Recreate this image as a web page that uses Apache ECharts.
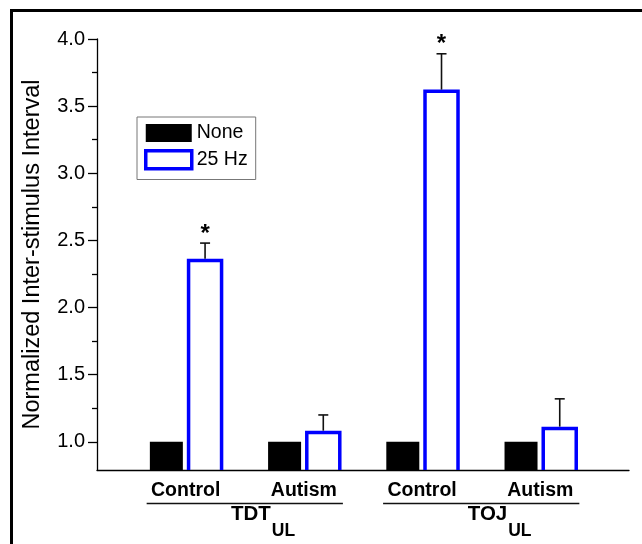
<!DOCTYPE html>
<html>
<head>
<meta charset="utf-8">
<script src="https://cdn.jsdelivr.net/npm/echarts@6/dist/echarts.min.js"></script>
<style>
  html, body { margin: 0; padding: 0; background: #fff; overflow: hidden; }
  #chart { position: absolute; left: 0; top: 0; width: 642px; height: 544px; }
  #frame { position: absolute; left: 10px; top: 9px; width: 700px; height: 600px;
           border-top: 3px solid #000; border-left: 3px solid #000; pointer-events: none; }
</style>
</head>
<body>
<div id="chart"></div>
<div id="frame"></div>
<script>
// values
const categories = ['Control', 'Autism', 'Control', 'Autism'];
const xPositions = [1, 2, 3, 4];
const noneValues = [1, 1, 1, 1];
const hzValues = [2.35, 1.07, 3.61, 1.10];
const hzErrors = [0.13, 0.13, 0.28, 0.22];
const significant = [1, 0, 1, 0];
const groupNames = ['TDT', 'TOJ'];
const groupSubs = ['UL', 'UL'];
const groupRanges = [[1, 2], [3, 4]];
const yTicks = [1.0, 1.5, 2.0, 2.5, 3.0, 3.5, 4.0];
const yMinorTicks = [1.25, 1.75, 2.25, 2.75, 3.25, 3.75];
const yMin = 0.79;
const yMax = 4.0;

const FONT = '"Liberation Sans", Arial, sans-serif';
const BAR_W = 33;
const HALF_STEP = 19.4; // px from group centre to each bar centre
const BLUE = '#0000ff';

const chart = echarts.init(document.getElementById('chart'));

const axisLineStyle = { color: '#000', width: 1.3 };

chart.setOption({
  animation: false,
  backgroundColor: '#fff',
  grid: { left: 97, right: 13, top: 39, bottom: 74 },
  legend: {
    data: ['None', { name: '25 Hz', itemStyle: { color: '#fff', borderColor: BLUE, borderWidth: 3.5 } }],
    orient: 'vertical',
    left: 137, top: 117,
    icon: 'rect',
    itemWidth: 46, itemHeight: 18, itemGap: 6,
    padding: [6, 8, 9, 7],
    borderColor: '#777', borderWidth: 1,
    backgroundColor: '#fff',
    textStyle: { fontFamily: FONT, fontSize: 19.5, color: '#000' }
  },
  xAxis: {
    type: 'value',
    min: 0.25, max: 4.75,
    z: 3,
    axisLine: { lineStyle: axisLineStyle },
    axisTick: { show: false },
    splitLine: { show: false },
    axisLabel: {
      customValues: xPositions,
      formatter: v => categories[xPositions.indexOf(v)] || '',
      fontFamily: FONT, fontWeight: 'bold', fontSize: 19.5, color: '#000', margin: 11
    }
  },
  yAxis: [{
    type: 'value',
    min: yMin, max: yMax,
    name: 'Normalized Inter-stimulus Interval',
    nameLocation: 'middle', nameGap: 52,
    nameTextStyle: { fontFamily: FONT, fontSize: 23.5, color: '#000' },
    axisLine: { show: true, lineStyle: axisLineStyle },
    axisTick: { show: true, length: 9, customValues: yTicks, lineStyle: axisLineStyle },
    axisLabel: {
      customValues: yTicks,
      formatter: v => v.toFixed(1),
      fontFamily: FONT, fontSize: 20, color: '#000', margin: 12
    },
    splitLine: { show: false }
  }, {
    type: 'value',
    min: yMin, max: yMax,
    position: 'left',
    axisLine: { show: false },
    axisTick: { show: true, length: 5, customValues: yMinorTicks, lineStyle: axisLineStyle },
    axisLabel: { show: false },
    splitLine: { show: false }
  }],
  series: [{
    name: 'None',
    type: 'bar',
    barWidth: BAR_W,
    barGap: '17%',
    data: xPositions.map((x, i) => [x, noneValues[i]]),
    itemStyle: { color: '#000' }
  }, {
    name: '25 Hz',
    type: 'bar',
    barWidth: BAR_W,
    barGap: '17%',
    data: xPositions.map((x, i) => [x, hzValues[i]]),
    itemStyle: { color: '#fff' }
  }, {
    // open blue outline of the 25 Hz bars, error bars and significance stars
    name: 'errors',
    type: 'custom',
    z: 5,
    data: xPositions.map((x, i) => [x, hzValues[i], hzErrors[i], significant[i]]),
    encode: { x: 0, y: 1 },
    renderItem: (params, api) => {
      const x = api.value(0), v = api.value(1), e = api.value(2), sig = api.value(3);
      const base = api.coord([x, v]);
      const top = api.coord([x, v + e]);
      const bottom = api.coord([x, yMin])[1];
      const cx = base[0] + HALF_STEP;
      const hw = BAR_W / 2;
      const stroke = { stroke: '#111', lineWidth: 1.6 };
      const children = [
        { type: 'polyline', shape: { points: [[cx - hw, bottom], [cx - hw, base[1]], [cx + hw, base[1]], [cx + hw, bottom]] },
          style: { stroke: BLUE, lineWidth: 3.5, fill: null, lineJoin: 'miter' } },
        { type: 'line', shape: { x1: cx, y1: base[1] - 1.75, x2: cx, y2: top[1] }, style: stroke },
        { type: 'line', shape: { x1: cx - 5, y1: top[1], x2: cx + 5, y2: top[1] }, style: stroke }
      ];
      if (sig) {
        children.push({
          type: 'text',
          style: { text: '*', x: cx, y: top[1] - 9, align: 'center', verticalAlign: 'middle',
                   fontFamily: FONT, fontWeight: 'bold', fontSize: 24, fill: '#000' }
        });
      }
      return { type: 'group', children };
    }
  }, {
    name: 'groups',
    type: 'custom',
    clip: false,
    data: groupRanges.map((r, i) => [r[0], r[1], yMin, i]),
    encode: { x: [0, 1], y: 2 },
    renderItem: (params, api) => {
      const i = api.value(3);
      const left = api.coord([api.value(0) - 0.33, api.value(2)]);
      const right = api.coord([api.value(1) + 0.33, api.value(2)]);
      const ly = left[1] + 33.5;
      const cx = (left[0] + right[0]) / 2 + 26;
      return {
        type: 'group',
        children: [
          { type: 'line', shape: { x1: left[0], y1: ly, x2: right[0], y2: ly }, style: { stroke: '#111', lineWidth: 1.6 } },
          { type: 'text', style: { text: groupNames[i], x: cx, y: ly + 11, align: 'right', verticalAlign: 'middle',
              fontFamily: FONT, fontWeight: 'bold', fontSize: 20.5, fill: '#000' } },
          { type: 'text', style: { text: groupSubs[i], x: cx + 1, y: ly + 28, align: 'left', verticalAlign: 'middle',
              fontFamily: FONT, fontWeight: 'bold', fontSize: 17.5, fill: '#000' } }
        ]
      };
    }
  }]
});
</script>
</body>
</html>
